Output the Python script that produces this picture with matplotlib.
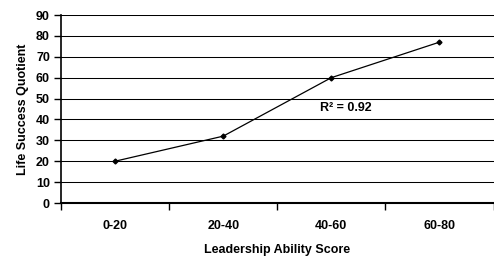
import matplotlib
matplotlib.use("Agg")
import matplotlib.pyplot as plt
import numpy as np

categories = ["0-20", "20-40", "40-60", "60-80"]
values = [20, 32, 60, 77]
yticks = list(range(0, 91, 10))
annotation = "R² = 0.92"

plt.rcParams['font.family'] = ['Liberation Sans', 'DejaVu Sans']
plt.rcParams['font.weight'] = 'bold'

fig = plt.figure(figsize=(4.94, 2.58), dpi=100)
ax = fig.add_axes([61/494, 1-203/258, 433/494 - 0.001, (203-15)/258])

x = np.arange(len(categories))
ax.plot(x, values, color='black', lw=0.9, marker='D', markersize=2.5,
        markerfacecolor='black', markeredgecolor='black')

ax.set_xlim(-0.5, len(categories) - 0.5)
ax.set_ylim(0, 90)
ax.set_yticks(yticks)
ax.set_yticklabels([str(v) for v in yticks], fontsize=9, fontweight='bold')
ax.yaxis.grid(True, color='black', lw=0.75)
ax.set_axisbelow(True)

ax.set_xticks(np.arange(-0.5, len(categories) + 0.5, 1.0))
ax.set_xticklabels([])
ax.set_xticks(x, minor=True)
ax.set_xticklabels(categories, minor=True, fontsize=9, fontweight='bold')
ax.tick_params(axis='x', which='minor', length=0, pad=12)
ax.tick_params(axis='x', which='major', length=5, width=1, direction='out')
ax.tick_params(axis='y', length=5, width=1, direction='out', pad=3)

for s in ['top', 'right']:
    ax.spines[s].set_visible(False)
ax.spines['left'].set_linewidth(1.2)
ax.spines['bottom'].set_linewidth(1.5)

ax.set_xlabel("Leadership Ability Score", fontsize=9, fontweight='bold', labelpad=9)
ax.set_ylabel("Life Success Quotient", fontsize=9, fontweight='bold', labelpad=5)

ax.text(2.13, 45.5, annotation, fontsize=9, fontweight='bold', ha='center', va='center')

fig.savefig("out.png", dpi=100)
